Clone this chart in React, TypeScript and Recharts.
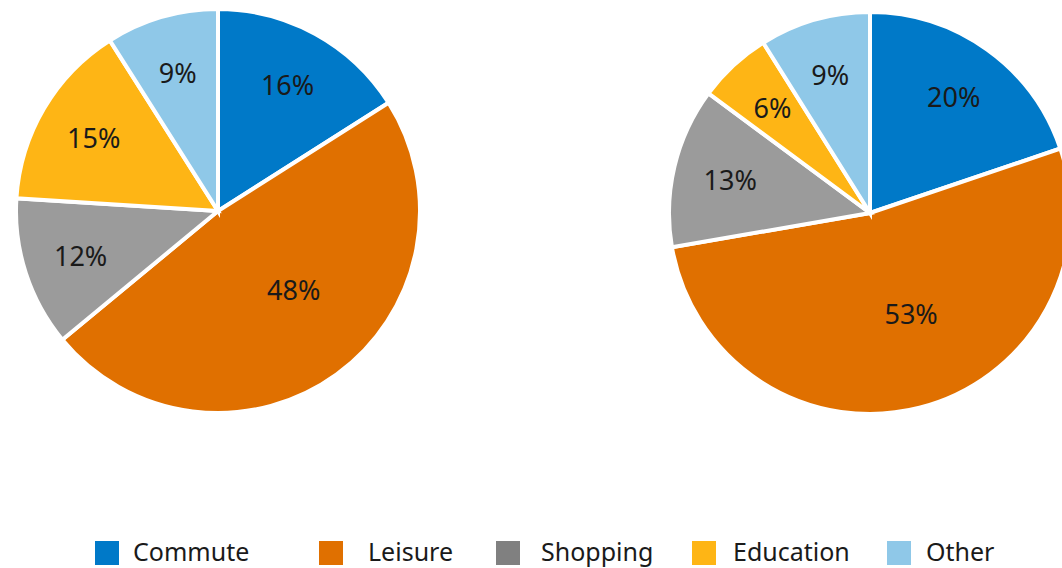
import { PieChart, Pie, Cell, Legend } from "recharts";

// categories and shares (%)
const CATEGORIES = ["Commute", "Leisure", "Shopping", "Education", "Other"];
const LEFT_VALUES = [16, 48, 12, 15, 9];
const RIGHT_VALUES = [20, 53, 13, 6, 9];

const COLORS = ["#0079c8", "#e07000", "#9b9b9b", "#feb515", "#8fc8e8"];
const LEGEND_COLORS = ["#0079c8", "#e07000", "#808080", "#feb515", "#8fc8e8"];

// legend layout (square x, text x) — the original legend spacing is uneven
const LEGEND_SQUARE_X = [95, 319, 496, 692, 887];
const LEGEND_TEXT_X = [133, 368, 541, 733, 926];

const FONT = "'Noto Sans', 'Open Sans', sans-serif";
const RADIAN = Math.PI / 180;

const leftData = CATEGORIES.map((name, i) => ({ name, value: LEFT_VALUES[i] }));
const rightData = CATEGORIES.map((name, i) => ({ name, value: RIGHT_VALUES[i] }));

function renderLabel(props: any) {
  const { cx, cy, midAngle, outerRadius, percent, value } = props;
  // big slices get their label pulled in toward the centre, like Excel's best fit
  const big = percent > 0.4;
  const r = outerRadius * (big ? 0.54 : 0.715);
  const a = (midAngle + (big ? 8 : 0)) * RADIAN;
  const x = cx + r * Math.cos(-a);
  const y = cy + r * Math.sin(-a);
  return (
    <text
      x={x}
      y={y}
      fill="#1a1a1a"
      fontSize={27}
      fontFamily={FONT}
      textAnchor="middle"
      dominantBaseline="central"
    >
      {`${value}%`}
    </text>
  );
}

function renderLegend() {
  return (
    <div style={{ position: "relative", width: 1062, height: 30, fontFamily: FONT }}>
      {CATEGORIES.map((c, i) => (
        <div key={c}>
          <div
            style={{
              position: "absolute",
              left: LEGEND_SQUARE_X[i],
              top: 0,
              width: 24,
              height: 24,
              background: LEGEND_COLORS[i],
            }}
          />
          <div
            style={{
              position: "absolute",
              left: LEGEND_TEXT_X[i],
              top: -7,
              fontSize: 25,
              lineHeight: "34px",
              color: "#1a1a1a",
              whiteSpace: "nowrap",
            }}
          >
            {c}
          </div>
        </div>
      ))}
    </div>
  );
}

export default function App() {
  return (
    <div style={{ position: "fixed", left: 0, top: 0, width: 1062, height: 568, overflow: "hidden", background: "#fff" }}>
      <PieChart width={1062} height={568} margin={{ top: 0, right: 0, bottom: 0, left: 0 }}>
        <Pie
          data={leftData}
          dataKey="value"
          nameKey="name"
          cx={218}
          cy={211}
          outerRadius={202}
          startAngle={90}
          endAngle={-270}
          stroke="#fff"
          strokeWidth={4}
          label={renderLabel}
          labelLine={false}
          isAnimationActive={false}
        >
          {leftData.map((d, i) => (
            <Cell key={d.name} fill={COLORS[i]} />
          ))}
        </Pie>
        <Pie
          data={rightData}
          dataKey="value"
          nameKey="name"
          cx={870}
          cy={213}
          outerRadius={201}
          startAngle={90}
          endAngle={-270}
          stroke="#fff"
          strokeWidth={4}
          label={renderLabel}
          labelLine={false}
          isAnimationActive={false}
        >
          {rightData.map((d, i) => (
            <Cell key={d.name} fill={COLORS[i]} />
          ))}
        </Pie>
        <Legend
          content={renderLegend}
          wrapperStyle={{ position: "absolute", left: 0, top: 541, width: 1062, height: 30 }}
        />
      </PieChart>
    </div>
  );
}
